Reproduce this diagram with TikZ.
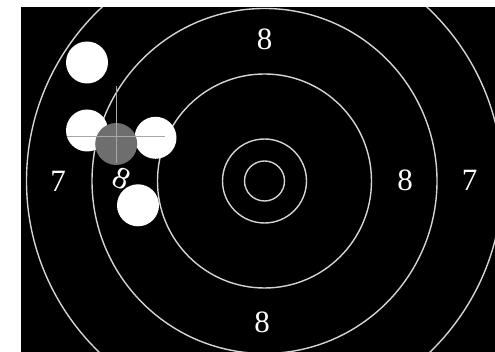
\documentclass[tikz,border=0pt]{standalone}
\usepackage{fontspec}
\setmainfont{Liberation Serif}
\usetikzlibrary{positioning}
\definecolor{ringgray}{HTML}{D4D4D4}
\definecolor{meangray}{HTML}{6E6E6E}
\definecolor{crossgray}{HTML}{A8A8A8}
\tikzset{
  ring/.style  ={draw=ringgray,line width=1.4pt},
  shot/.style  ={circle,fill=white,minimum size=42pt,inner sep=0pt},
  meanshot/.style={shot,fill=meangray},
  score/.style ={text=white,inner sep=0pt,font=\fontsize{31}{31}\selectfont},
  cross/.style ={draw=crossgray,line width=1pt},
}

\begin{document}
\begin{tikzpicture}[x=1pt,y=1pt]
  \useasboundingbox (0,0) rectangle (495,352);
  % target face
  \fill[black] (21,0) rectangle (495,344.5);
  \coordinate (c) at (264.5,171);
  \begin{scope}
    \clip (21,0) rectangle (495,344.5);
    \foreach \r in {20,42,107,172.5,238}
      \draw[ring] (c) circle[radius=\r pt];
  \end{scope}
  % ring values
  \node[score] (top8)   at (264.7,312.5) {8};
  \node[score] (bot8)   at (262,29.5)    {8};
  \node[score] (right8) at (405,171.5)   {8};
  \node[score] (right7) at (469.5,172)   {7};
  \node[score] (left7)  at (58,171)      {7};
  \node[score,rotate=-25] (left8) at (122,173) {8};
  % hits and their mean
  \node[shot] (hit1) at (87,289.5)    {};
  \node[shot] (hit2) at (87,221.5)    {};
  \node[shot] (hit3) at (155.5,214.2) {};
  \node[shot] (hit4) at (138,146.7)   {};
  \node[meanshot] (mean) at (116.2,208) {};
  % aiming cross
  \coordinate (vtop) at (116.7,266);
  \coordinate (vbot) at (116.7,189);
  \coordinate (hlft) at (67,215.3);
  \coordinate (hrgt) at (165,215.3);
  \draw[cross] (vtop) -- (vbot);
  \draw[cross] (hlft) -- (hrgt);
\end{tikzpicture}
\end{document}
